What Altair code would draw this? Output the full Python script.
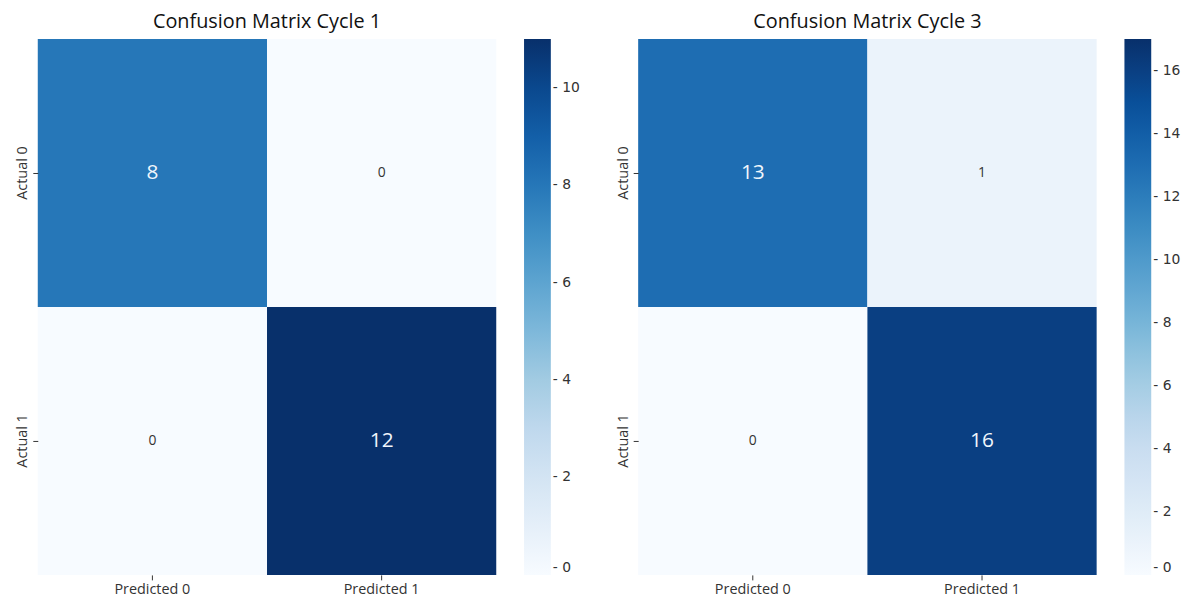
import altair as alt
import pandas as pd

predicted = ["Predicted 0", "Predicted 1"]
actual = ["Actual 0", "Actual 1"]
# row-major: (Actual 0, Pred 0), (Actual 0, Pred 1), (Actual 1, Pred 0), (Actual 1, Pred 1)
cycle1 = [8, 0, 0, 12]
cycle3 = [13, 1, 0, 16]
titles = ["Confusion Matrix Cycle 1", "Confusion Matrix Cycle 3"]
cbar_max = [11, 17]
cbar_ticks = [[0, 2, 4, 6, 8, 10], [0, 2, 4, 6, 8, 10, 12, 14, 16]]
blues = ["#f7fbff", "#deebf7", "#c6dbef", "#9ecae1", "#6baed6",
         "#4292c6", "#2171b5", "#08519c", "#08306b"]


def panel(values, title, vmax, ticks):
    df = pd.DataFrame({
        "Actual": [a for a in actual for _ in predicted],
        "Predicted": [p for _ in actual for p in predicted],
        "value": values,
    })
    dom = [vmax * i / (len(blues) - 1) for i in range(len(blues))]
    base = alt.Chart(df).encode(
        x=alt.X("Predicted:N", sort=predicted, title=None,
                axis=alt.Axis(labelAngle=0, labelFont="Open Sans", labelFontSize=14.5,
                              labelColor="#333333", tickSize=5, tickColor="#333333",
                              domain=False, labelPadding=3)),
        y=alt.Y("Actual:N", sort=actual, title=None,
                axis=alt.Axis(labelAngle=270, labelAlign="center", labelBaseline="bottom",
                              labelFont="Open Sans", labelFontSize=14.5,
                              labelColor="#333333", tickSize=5, tickColor="#333333",
                              domain=False, labelPadding=3)),
    )
    rect = base.mark_rect().encode(
        color=alt.Color("value:Q",
                        scale=alt.Scale(domain=dom, range=blues, clamp=True),
                        legend=alt.Legend(title=None, orient="right", offset=28, padding=0,
                                          gradientLength=540, gradientThickness=27,
                                          gradientStrokeWidth=0, values=ticks,
                                          labelFont="DejaVu Sans", labelFontSize=14,
                                          labelColor="#333333", labelBaseline="middle",
                                          labelOverlap=False, labelOffset=2,
                                          labelExpr="'- ' + datum.label")),
    )
    text = base.mark_text(font="Open Sans").encode(
        text="value:Q",
        color=alt.condition(alt.datum.value > vmax / 2, alt.value("#f0f6fc"), alt.value("#333333")),
        size=alt.condition(alt.datum.value > vmax / 2, alt.value(21), alt.value(14)),
    )
    return alt.layer(rect, text).properties(
        width=462, height=540,
        title=alt.Title(title, font="Open Sans", fontSize=20, fontWeight="normal",
                        color="#111111", anchor="middle", offset=7),
    )


chart = alt.hconcat(
    panel(cycle1, titles[0], cbar_max[0], cbar_ticks[0]),
    panel(cycle3, titles[1], cbar_max[1], cbar_ticks[1]),
    spacing=35,
).resolve_scale(color="independent").properties(
    padding={"left": 7, "top": 2, "right": 0, "bottom": 0}
).configure_view(stroke=None)

chart.save("out.html", embed_options={"renderer": "svg", "actions": False})
